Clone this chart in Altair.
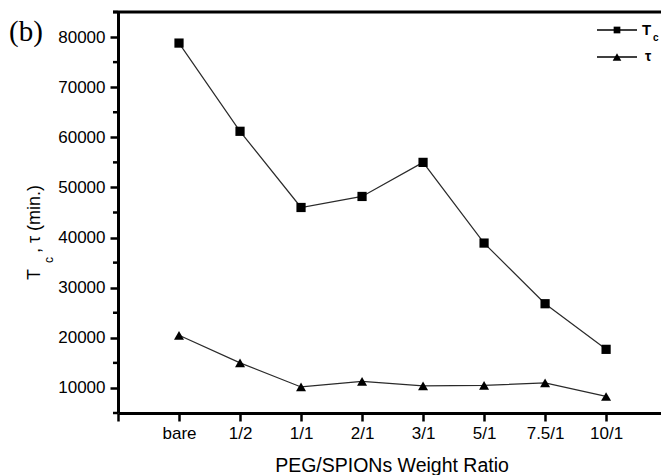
import altair as alt
import pandas as pd

categories = ["bare", "1/2", "1/1", "2/1", "3/1", "5/1", "7.5/1", "10/1"]
tc_values = [78800, 61200, 46000, 48200, 55000, 38900, 26800, 17700]
tau_values = [20500, 15000, 10200, 11300, 10400, 10500, 11000, 8300]
series_names = ["Tc", "tau"]
major_ticks = [10000, 20000, 30000, 40000, 50000, 60000, 70000, 80000]
minor_ticks = [5000, 15000, 25000, 35000, 45000, 55000, 65000, 75000, 85000]

rows = []
for i, c in enumerate(categories):
    rows.append({"idx": i, "cat": c, "series": "Tc", "value": tc_values[i]})
    rows.append({"idx": i, "cat": c, "series": "tau", "value": tau_values[i]})
df = pd.DataFrame(rows)

W, H = 543, 401
FONT = "Liberation Sans"
one = pd.DataFrame({"k": [0]})

label_expr = "datum.value < 0 ? '' : " + str(categories) + "[datum.value]"

x_enc = alt.X(
    "idx:Q",
    scale=alt.Scale(domain=[-1, 7.9], nice=False, zero=False),
    axis=alt.Axis(
        values=list(range(-1, 8)), labelExpr=label_expr, title=None, grid=False,
        tickSize=8, tickWidth=2.5, domainWidth=3, labelFontSize=17, labelPadding=4,
        labelFont=FONT, tickColor="black", domainColor="black", labelColor="black",
        labelFlush=False, labelOverlap=False,
    ),
)
y_scale = alt.Scale(domain=[5000, 85000], nice=False, zero=False)
y_enc = alt.Y(
    "value:Q",
    scale=y_scale,
    axis=alt.Axis(
        values=major_ticks, format="d", title=None, grid=False,
        tickSize=8, tickWidth=2.5, domainWidth=3, labelFontSize=17, labelPadding=5,
        labelFont=FONT, tickColor="black", domainColor="black", labelColor="black",
        labelFlush=False, labelOverlap=False,
    ),
)

base = alt.Chart(df)
lines = base.mark_line(color="#2a2a2a", strokeWidth=1.2).encode(
    x=x_enc, y=y_enc, detail="series:N"
)
points = base.mark_point(filled=True, opacity=1, color="black").encode(
    x="idx:Q", y="value:Q",
    shape=alt.Shape("series:N", scale=alt.Scale(domain=series_names, range=["square", "triangle-up"]), legend=None),
    size=alt.Size("series:N", scale=alt.Scale(domain=series_names, range=[85, 100]), legend=None),
)

minor = alt.Chart(pd.DataFrame({"v": minor_ticks})).mark_rule(color="black", strokeWidth=2.5).encode(
    y=alt.Y("v:Q", scale=y_scale), x=alt.value(-5), x2=alt.value(0)
)

top_frame = alt.Chart(one).mark_rule(color="black", strokeWidth=3).encode(
    x=alt.value(-5), x2=alt.value(W + 5), y=alt.value(0)
)

def txt(s, x, y, size, angle=0, font=FONT, weight="normal", align="left", baseline="alphabetic"):
    return alt.Chart(pd.DataFrame({"t": [s]})).mark_text(
        font=font, fontSize=size, angle=angle, fontWeight=weight, align=align,
        baseline=baseline, color="black"
    ).encode(x=alt.value(x), y=alt.value(y), text="t:N")

texts = [
    txt("(b)", -109, 29, 29, font="Liberation Serif"),
    txt("PEG/SPIONs Weight Ratio", 274, 460, 19.5, align="center"),
    txt("T", -78, 268, 18, angle=270),
    txt("c", -65, 251, 12, angle=270),
    txt(",", -78, 241, 18, angle=270),
    txt("\u03c4 (min.)", -78, 231, 18, angle=270),
    # legend text
    txt("T", 524, 23, 15, weight="bold"),
    txt("c", 535, 29, 10, weight="bold"),
    txt("\u03c4", 527, 49, 14, weight="bold"),
]

leg_lines = [
    alt.Chart(one).mark_rule(color="black", strokeWidth=1.5).encode(
        x=alt.value(479), x2=alt.value(519), y=alt.value(yy)
    ) for yy in (18, 45)
]
leg_pts = [
    alt.Chart(one).mark_point(filled=True, opacity=1, color="black", shape=shp, size=sz).encode(
        x=alt.value(499), y=alt.value(yy)
    ) for shp, sz, yy in (("square", 45, 18), ("triangle-up", 75, 45))
]

chart = alt.layer(lines, points, minor, top_frame, *leg_lines, *leg_pts, *texts).properties(
    width=W, height=H,
    autosize=alt.AutoSizeParams(type="none"),
    padding={"left": 118, "top": 12, "right": 0, "bottom": 62},
    background="white",
).configure_view(stroke=None)

chart.save("out.html", embed_options={"renderer": "svg", "actions": False})
